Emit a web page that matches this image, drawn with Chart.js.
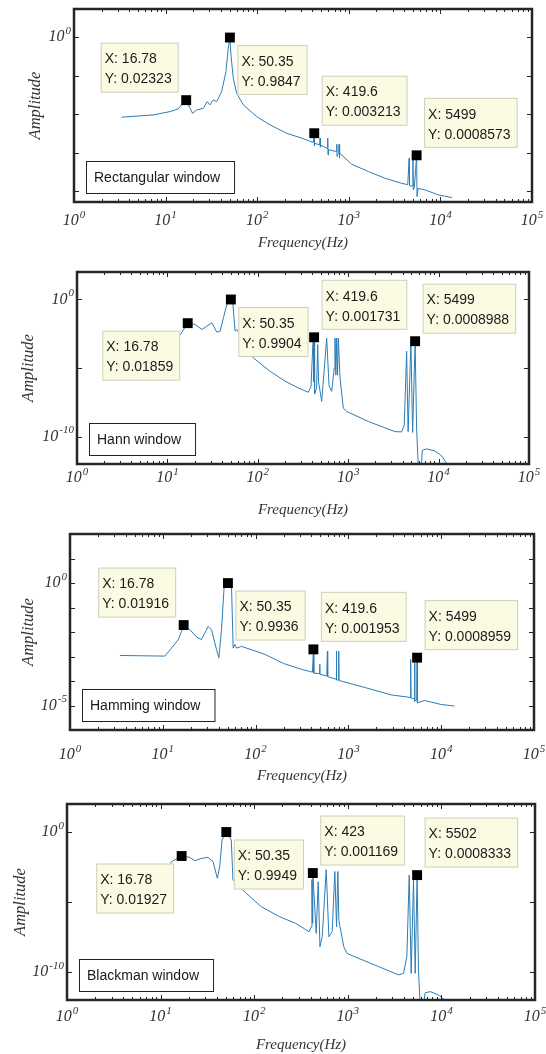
<!DOCTYPE html>
<html>
<head>
<meta charset="utf-8">
<script src="https://cdn.jsdelivr.net/npm/chart.js@4.4.1/dist/chart.umd.min.js"></script>
<style>
body { margin: 0; background: #fff; }
#wrap { position: relative; width: 546px; height: 1054px; }
.panel { position: absolute; left: 0; width: 546px; }
</style>
</head>
<body>
<div id="wrap">
  <div class="panel" style="top:0px;height:258px"><canvas id="rectChart"></canvas></div>
  <div class="panel" style="top:258px;height:266px"><canvas id="hannChart"></canvas></div>
  <div class="panel" style="top:524px;height:266px"><canvas id="hammChart"></canvas></div>
  <div class="panel" style="top:790px;height:264px"><canvas id="blackChart"></canvas></div>
</div>
<script>
// ---- data ----
const xTickDecades = [0, 1, 2, 3, 4, 5];
const xMinorSteps = [2, 3, 4, 5, 6, 7, 8, 9];

// Rectangular window
const rectFreq = [3.3, 7.3, 11.1, 13.7, 14.95, 16.78, 19.7, 21.8, 25.8, 28.5, 30.5, 33.1, 36.1, 40.9, 45.6, 48.3, 50.35, 51.7, 54.8, 59.7, 70.5, 98.8, 138, 210, 306,
  410, 419.6, 422, 428, 480, 486, 490, 500, 580, 589, 593, 600, 730, 740, 744, 775, 783, 787, 800,
  1079, 1640, 2494, 3796, 4400, 4560, 4600, 4950, 5015, 5060, 5200, 5499, 5560, 5700, 6820, 9530, 13370];
const rectAmp = [0.0084, 0.0096, 0.0117, 0.0137, 0.0175, 0.02323, 0.0106, 0.0129, 0.0143, 0.0213, 0.0175, 0.0235, 0.0213, 0.0386, 0.128, 0.518, 0.9847, 0.347, 0.086, 0.035, 0.0175, 0.0087, 0.0053, 0.0032, 0.0024,
  0.00185, 0.003213, 0.0015, 0.00175, 0.0016, 0.0024, 0.0014, 0.00155, 0.0013, 0.0024, 0.00088, 0.0012, 0.00108, 0.00166, 0.0008, 0.00102, 0.00166, 0.00072, 0.00098,
  0.0005, 0.000324, 0.000217, 0.00016, 0.000148, 0.00072, 0.00014, 0.000135, 0.00072, 0.000108, 0.00013, 0.0008573, 0.0000724, 0.000118, 0.000108, 0.00008, 0.0000682];
const rectTipX = [16.78, 50.35, 419.6, 5499];
const rectTipY = [0.02323, 0.9847, 0.003213, 0.0008573];
const rectTipSide = ['ul', 'dr', 'ur', 'ur'];
const rectYTickExp = [0, -1, -2, -3, -4];
const rectYLabelExp = [0];

// Hann window
const hannFreq = [3.3, 10, 16.78, 20.3, 24.1, 27.3, 31, 35.2, 38.3, 41.7, 45.4, 50.35, 52.9, 56.1, 58.6, 89.4, 137, 200, 281, 362, 388,
  405, 411, 415, 419.6, 425, 447, 460, 470, 509, 545, 578, 614, 657, 700, 714, 730, 746, 762, 778, 812, 883, 962,
  1667, 3290, 3900, 4170, 4430, 4600, 4940, 5160, 5499, 5710, 6030, 6350, 6600, 7360, 9100, 10800, 12250];
const hannAmp = [3e-5, 1e-4, 0.01859, 0.0148, 0.0064, 0.0112, 0.0197, 0.0041, 0.0049, 0.046, 0.43, 0.9904, 0.575, 0.0049, 0.0064, 5.4e-5, 5.7e-6, 1.1e-6, 3.5e-7, 1.7e-7, 4.6e-7,
  3.2e-4, 1e-3, 1e-6, 0.001731, 1.3e-7, 3.2e-7, 5e-4, 1e-6, 3.7e-8, 1e-5, 1.5e-3, 5e-7, 2e-7, 1e-5, 1.5e-3, 3e-6, 1.5e-3, 3e-6, 1.5e-3, 1.9e-6, 1.2e-8, 6.8e-9,
  1.26e-9, 2.3e-10, 2.2e-10, 7e-10, 1.66e-4, 2.3e-10, 8.9e-4, 2e-10, 0.0008988, 4e-10, 1e-13, 1e-13, 1e-11, 1.26e-11, 8.9e-12, 4e-12, 1.1e-12];
const hannTipX = [16.78, 50.35, 419.6, 5499];
const hannTipY = [0.01859, 0.9904, 0.001731, 0.0008988];
const hannTipSide = ['dl', 'dr', 'ur', 'ur'];
const hannYTickExp = [0, -5, -10];
const hannYLabelExp = [0, -10];

// Hamming window
const hammFreq = [3.45, 10.5, 12.4, 14.7, 15.9, 16.78, 19.6, 23.1, 26.1, 30.8, 33.5, 37.9, 40.2, 42.9, 45.8, 50.35, 55, 57.3, 59.7, 62.3, 70.5, 126, 200, 312,
  410, 419.6, 424, 488, 491, 494, 585, 594, 598, 738, 743, 747, 782, 787, 792,
  1626, 2900, 4385, 4650, 4690, 4730, 5130, 5170, 5210, 5460, 5499, 5540, 6630, 10000, 13900];
const hammAmp = [0.0011, 0.00104, 0.0022, 0.0049, 0.0105, 0.01916, 0.0124, 0.0063, 0.0049, 0.0168, 0.0124, 0.00194, 0.00089, 0.0124, 0.69, 0.9936, 0.69, 0.0022, 0.0031, 0.0022, 0.0026, 0.00122, 0.00052, 0.0003,
  0.00023, 0.001953, 0.00021, 0.0002, 0.00048, 0.00019, 0.00016, 0.00166, 0.00015, 0.00012, 0.00166, 0.00011, 0.00011, 0.00166, 0.000105,
  0.00005, 0.000027, 0.000022, 0.000021, 0.00076, 0.00002, 0.000019, 0.00056, 0.000015, 0.000017, 0.0008959, 0.000013, 0.000016, 0.000011, 0.0000095];
const hammTipX = [16.78, 50.35, 419.6, 5499];
const hammTipY = [0.01916, 0.9936, 0.001953, 0.0008959];
const hammTipSide = ['ul', 'dr', 'ur', 'ur'];
const hammYTickExp = [1, 0, -1, -2, -3, -4, -5];
const hammYLabelExp = [0, -5];

// Blackman window
const blackFreq = [3.3, 10, 13.1, 16.78, 20.5, 23.2, 27.3, 32.1, 36.3, 40.4, 42.8, 45.3, 50.35, 56.9, 59.3, 82.2, 119, 186, 277, 385, 407,
  414, 419, 423, 460, 483, 504, 533, 588, 628, 681, 727, 758, 783, 802, 906, 984,
  2138, 3490, 3945, 4276, 4530, 4753, 5036, 5250, 5502, 5690, 6000, 6280, 6700, 7580, 9290, 10900];
const blackAmp = [1e-4, 3.2e-4, 0.0076, 0.01927, 0.0155, 0.0089, 0.013, 0.0155, 0.0076, 0.00049, 0.0033, 0.27, 0.9949, 0.27, 0.00037, 4.2e-5, 4.6e-6, 9e-7, 3e-7, 7.6e-8, 1.7e-7,
  4e-4, 3e-7, 0.001169, 5.7e-8, 2.8e-4, 6.4e-9, 3.3e-8, 2e-3, 3.3e-8, 7.6e-8, 1.5e-3, 1.7e-7, 1.5e-3, 5e-7, 6.4e-9, 2.1e-9,
  2.4e-10, 6.2e-11, 8e-11, 1.3e-9, 8.5e-4, 8e-11, 3.7e-4, 8e-11, 0.0008333, 1.4e-10, 1e-13, 1e-13, 3.2e-12, 4e-12, 2.3e-12, 1e-12];
const blackTipX = [16.78, 50.35, 423, 5502];
const blackTipY = [0.01927, 0.9949, 0.001169, 0.0008333];
const blackTipSide = ['dl', 'dr', 'ur', 'ur'];
const blackYTickExp = [0, -5, -10];
const blackYLabelExp = [0, -10];

const windowNames = ['Rectangular window', 'Hann window', 'Hamming window', 'Blackman window'];

// ---- look ----
const lineColor = '#2b7db6';
const serif = "'Liberation Serif', 'Times New Roman', serif";
const sans = "'Liberation Sans', Arial, sans-serif";

function stretchedText(ctx, s, x, y) {
    ctx.save();
    ctx.translate(x, y);
    ctx.scale(1, 1.1);
    ctx.fillText(s, 0, 0);
    ctx.restore();
}

// "10" with a raised exponent, like the MATLAB tick labels
function drawPow(ctx, e, x, y, align) {
    const base = '10', ex = String(e);
    ctx.font = 'italic 16px ' + serif;
    const bw = ctx.measureText(base).width;
    ctx.font = 'italic 11px ' + serif;
    const ew = ctx.measureText(ex).width;
    const total = bw + 1 + ew;
    const x0 = align === 'center' ? x - total / 2 : x - total;
    ctx.font = 'italic 16px ' + serif;
    ctx.fillText(base, x0, y);
    ctx.font = 'italic 11px ' + serif;
    ctx.fillText(ex, x0 + bw + 1, y - 6);
}

// frame, inward ticks, tick labels, data tips, window label box
function panelPlugin(p) {
    return {
        id: 'matlabLook',
        afterDatasetsDraw(chart) {
            const {ctx, chartArea: a, scales: {x, y}} = chart;
            ctx.save();
            ctx.font = '14px ' + sans;
            ctx.textBaseline = 'middle';
            ctx.textAlign = 'left';
            p.tipX.forEach((tx, i) => {
                const px = x.getPixelForValue(tx), py = y.getPixelForValue(p.tipY[i]);
                const l1 = 'X: ' + String(tx), l2 = 'Y: ' + String(p.tipY[i]);
                const w = Math.max(ctx.measureText(l1).width, ctx.measureText(l2).width) + 11;
                const h = 50, g = 7.5;
                const side = p.tipSide[i];
                const bx = side[1] === 'r' ? px + g : px - g - w;
                const by = side[0] === 'd' ? py + g : py - g - h;
                ctx.fillStyle = '#fbfbe4';
                ctx.fillRect(bx, by, w, h);
                ctx.strokeStyle = '#cfcfbf';
                ctx.lineWidth = 1;
                ctx.strokeRect(bx + 0.5, by + 0.5, w - 1, h - 1);
                ctx.fillStyle = '#1a1a1a';
                stretchedText(ctx, l1, bx + 4, by + 16.5);
                stretchedText(ctx, l2, bx + 4, by + 36.5);
            });
            // window name box
            const tw = ctx.measureText(p.name).width;
            const lx = a.left + 12, lh = 33, lw = tw + 23, ly = a.bottom - 8 - lh;
            ctx.fillStyle = '#fff';
            ctx.fillRect(lx, ly, lw, lh);
            ctx.strokeStyle = '#222';
            ctx.lineWidth = 1;
            ctx.strokeRect(lx + 0.5, ly + 0.5, lw - 1, lh - 1);
            ctx.fillStyle = '#1a1a1a';
            stretchedText(ctx, p.name, lx + 8, ly + lh / 2);
            ctx.restore();
        },
        afterDraw(chart) {
            const {ctx, chartArea: a, scales: {x, y}} = chart;
            ctx.save();
            ctx.strokeStyle = '#262626';
            ctx.lineWidth = 1;
            ctx.beginPath();
            x.ticks.forEach(t => {
                const px = Math.round(x.getPixelForValue(t.value)) + 0.5;
                const len = t.isMajor ? 5 : 3;
                ctx.moveTo(px, a.bottom); ctx.lineTo(px, a.bottom - len);
                ctx.moveTo(px, a.top); ctx.lineTo(px, a.top + len);
            });
            y.ticks.forEach(t => {
                const py = Math.round(y.getPixelForValue(t.value)) + 0.5;
                ctx.moveTo(a.left, py); ctx.lineTo(a.left + 5, py);
                ctx.moveTo(a.right, py); ctx.lineTo(a.right - 5, py);
            });
            ctx.stroke();
            ctx.lineWidth = 2.5;
            ctx.strokeRect(a.left, a.top, a.right - a.left, a.bottom - a.top);

            ctx.fillStyle = '#333';
            ctx.textBaseline = 'middle';
            ctx.textAlign = 'left';
            x.ticks.filter(t => t.isMajor).forEach(t => {
                drawPow(ctx, Math.round(Math.log10(t.value)), x.getPixelForValue(t.value), a.bottom + p.xLabelDy, 'center');
            });
            y.ticks.forEach(t => {
                const e = Math.round(Math.log10(t.value));
                if (p.yLabelExp.includes(e)) drawPow(ctx, e, a.left - 3, y.getPixelForValue(t.value), 'right');
            });
            ctx.restore();
        }
    };
}

function makePanel(canvasId, p) {
    new Chart(document.getElementById(canvasId), {
        type: 'scatter',
        data: {
            datasets: [{
                data: p.tipX.map((v, i) => ({x: v, y: p.tipY[i]})),
                pointStyle: 'rect',
                pointRadius: 7,
                pointHoverRadius: 7,
                backgroundColor: '#000',
                borderColor: '#000',
                borderWidth: 0,
                showLine: false
            }, {
                data: p.freq.map((f, i) => ({x: f, y: p.amp[i]})),
                showLine: true,
                borderColor: lineColor,
                borderWidth: 1,
                pointRadius: 0,
                pointHoverRadius: 0,
                tension: 0
            }]
        },
        options: {
            responsive: true,
            maintainAspectRatio: false,
            animation: false,
            events: [],
            layout: { padding: { top: p.padTop, right: p.padRight, bottom: 0, left: 0 } },
            plugins: { legend: { display: false }, tooltip: { enabled: false } },
            scales: {
                x: {
                    type: 'logarithmic',
                    min: 1,
                    max: 1e5,
                    grid: { display: false, drawTicks: false },
                    border: { display: false },
                    afterBuildTicks: (scale) => {
                        const ticks = [];
                        xTickDecades.forEach(d => {
                            ticks.push({value: Math.pow(10, d), isMajor: true});
                            if (d < 5) xMinorSteps.forEach(m => ticks.push({value: m * Math.pow(10, d), isMajor: false}));
                        });
                        scale.ticks = ticks;
                    },
                    afterFit: (scale) => {
                        scale.height = p.xHeight;
                        scale.paddingLeft = 0;
                        scale.paddingRight = 0;
                    },
                    ticks: { display: false },
                    title: {
                        display: true,
                        text: 'Frequency(Hz)',
                        color: '#333',
                        font: { family: serif, size: 15, style: 'italic' },
                        padding: { top: 0, bottom: p.xTitlePad }
                    }
                },
                y: {
                    type: 'logarithmic',
                    min: p.yMin,
                    max: p.yMax,
                    grid: { display: false, drawTicks: false },
                    border: { display: false },
                    afterBuildTicks: (scale) => {
                        scale.ticks = p.yTickExp.map(e => ({value: Math.pow(10, e)}));
                    },
                    afterFit: (scale) => {
                        scale.width = p.plotLeft;
                        scale.paddingTop = 0;
                        scale.paddingBottom = 0;
                    },
                    ticks: { display: false },
                    title: {
                        display: true,
                        text: 'Amplitude',
                        color: '#333',
                        font: { family: serif, size: 16.5, style: 'italic' },
                        padding: { top: p.yTitlePad, bottom: 0 }
                    }
                }
            }
        },
        plugins: [panelPlugin(p)]
    });
}

makePanel('rectChart', {
    freq: rectFreq, amp: rectAmp, tipX: rectTipX, tipY: rectTipY, tipSide: rectTipSide,
    yTickExp: rectYTickExp, yLabelExp: rectYLabelExp, name: windowNames[0],
    yMin: Math.pow(10, -4.28), yMax: Math.pow(10, 0.735),
    padTop: 9, padRight: 14, plotLeft: 74, xHeight: 56, xLabelDy: 19, xTitlePad: 6, yTitlePad: 26
});
makePanel('hannChart', {
    freq: hannFreq, amp: hannAmp, tipX: hannTipX, tipY: hannTipY, tipSide: hannTipSide,
    yTickExp: hannYTickExp, yLabelExp: hannYLabelExp, name: windowNames[1],
    yMin: 1e-12, yMax: 1e2,
    padTop: 14, padRight: 17, plotLeft: 77, xHeight: 60, xLabelDy: 14, xTitlePad: 5, yTitlePad: 19
});
makePanel('hammChart', {
    freq: hammFreq, amp: hammAmp, tipX: hammTipX, tipY: hammTipY, tipSide: hammTipSide,
    yTickExp: hammYTickExp, yLabelExp: hammYLabelExp, name: windowNames[2],
    yMin: 1e-6, yMax: 1e2,
    padTop: 10, padRight: 12, plotLeft: 70, xHeight: 60, xLabelDy: 25, xTitlePad: 5, yTitlePad: 19
});
makePanel('blackChart', {
    freq: blackFreq, amp: blackAmp, tipX: blackTipX, tipY: blackTipY, tipSide: blackTipSide,
    yTickExp: blackYTickExp, yLabelExp: blackYLabelExp, name: windowNames[3],
    yMin: 1e-12, yMax: 1e2,
    padTop: 14, padRight: 11, plotLeft: 67, xHeight: 54, xLabelDy: 17, xTitlePad: 0, yTitlePad: 11
});
</script>
</body>
</html>
